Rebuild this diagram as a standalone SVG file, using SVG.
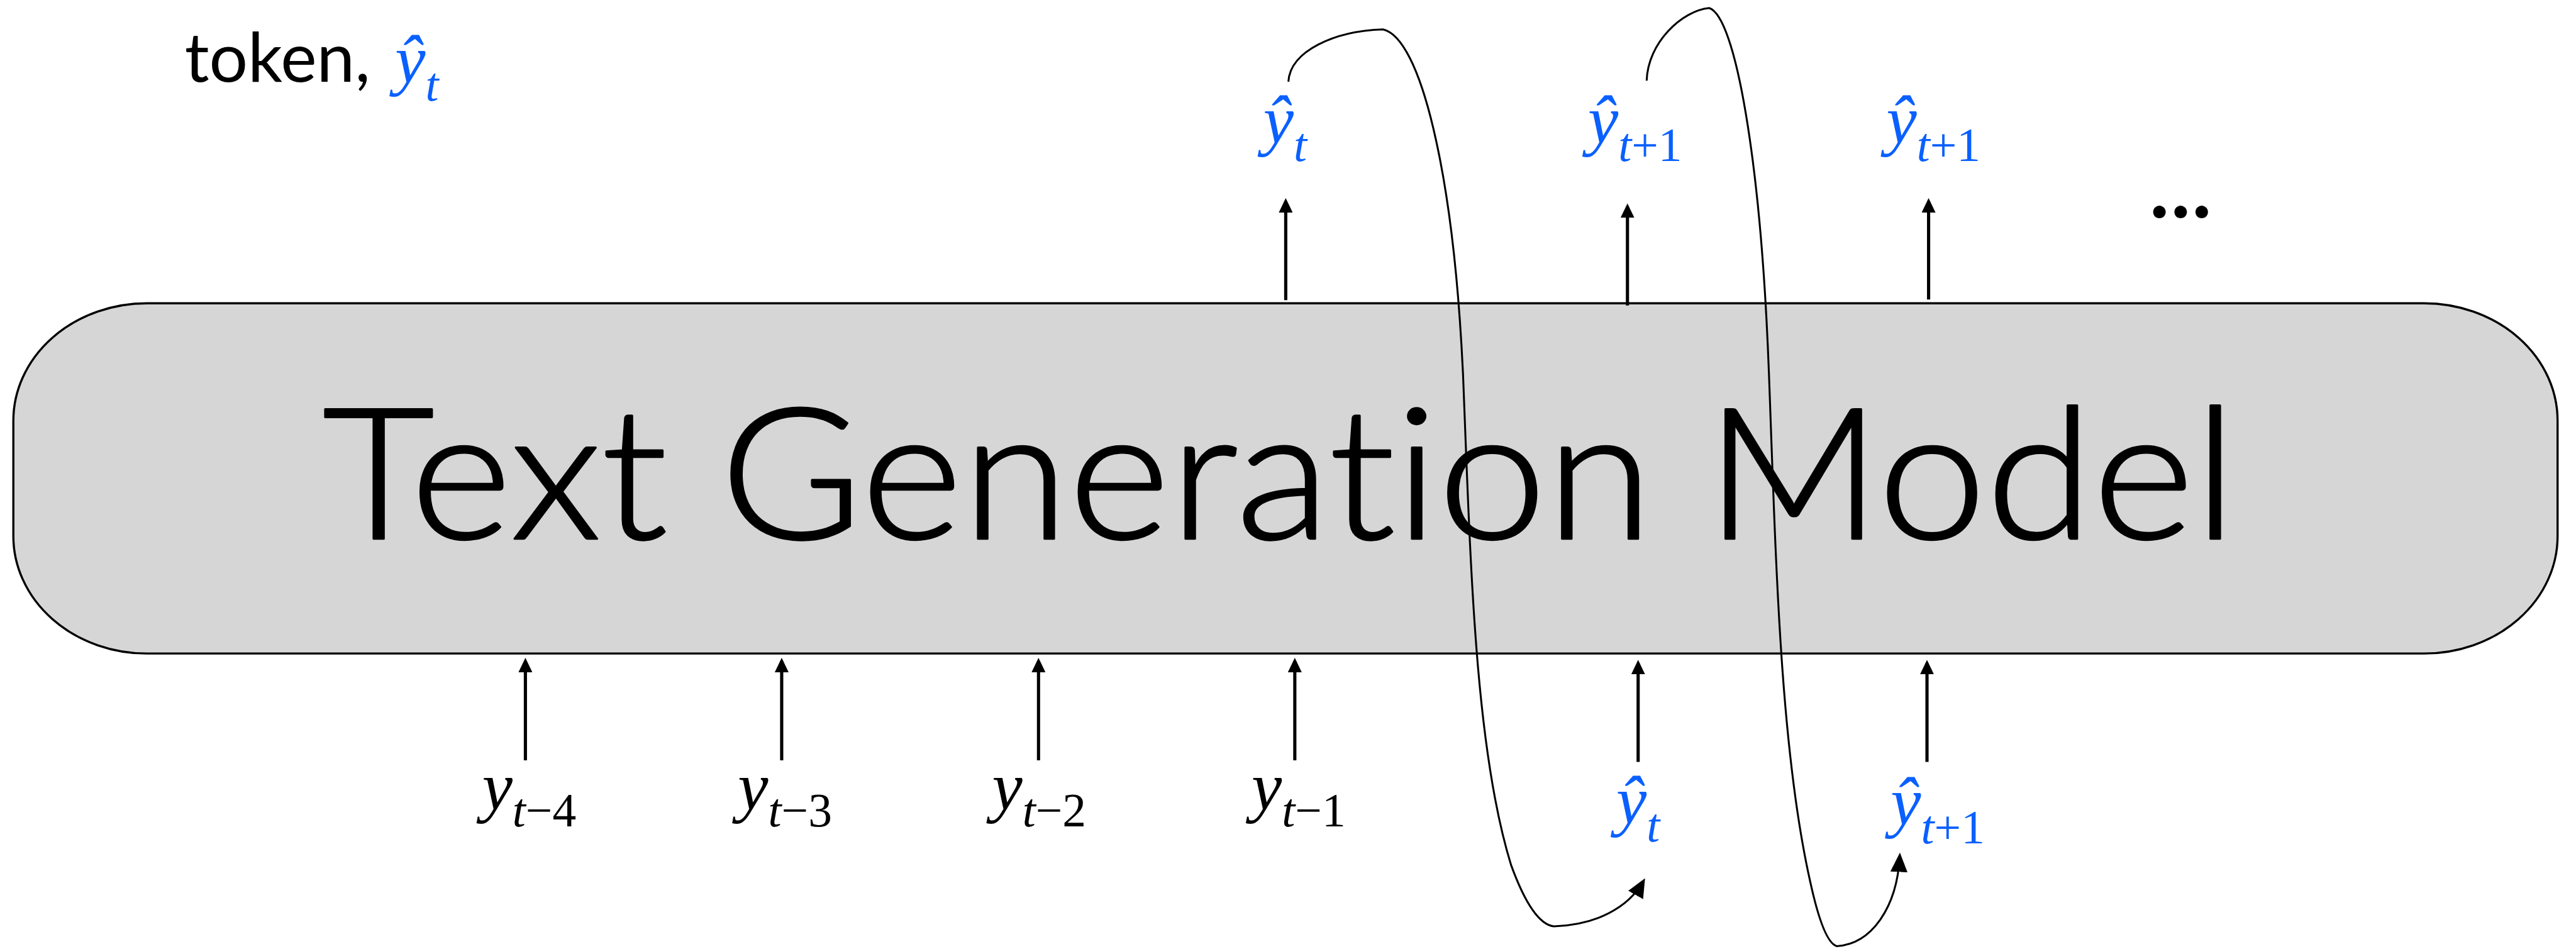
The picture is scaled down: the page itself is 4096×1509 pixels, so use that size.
<svg xmlns="http://www.w3.org/2000/svg" width="4096" height="1509" viewBox="0 0 4096 1509">
<style>
.math{font-family:"Liberation Serif","Times New Roman",serif;font-size:128px}
.it{font-style:italic}
.sub{font-size:89px}
.blue{fill:#0a60ff}
.blk{fill:#000}
.sans{font-family:Lato,"Liberation Sans",sans-serif;font-variant-ligatures:none;font-feature-settings:"liga" 0,"clig" 0}
.arr{stroke:#000;stroke-width:6;fill:none;marker-end:url(#ah)}
.curve{stroke:#000;stroke-width:3.6;fill:none;marker-end:url(#ahc)}
</style>
<defs>
<marker id="ah" viewBox="0 0 27 26" markerWidth="27" markerHeight="26" refX="21" refY="13" orient="auto" markerUnits="userSpaceOnUse">
<path d="M0,0 L27,13 L0,26 Z" fill="#000"/>
</marker>
<marker id="ahc" viewBox="0 0 36 32" markerWidth="36" markerHeight="32" refX="30" refY="16" orient="auto" markerUnits="userSpaceOnUse">
<path d="M0,0 L36,16 L0,32 Z" fill="#000"/>
</marker>
</defs>
<rect width="4096" height="1509" fill="#fff"/>
<g transform="scale(0.849)">
<g id="model">
<path d="M275,568 H4540 A250,220 0 0 1 4790,788 V1004 A250,220 0 0 1 4540,1224 H275 A250,220 0 0 1 25,1004 V788 A250,220 0 0 1 275,568 Z" fill="#d6d6d6" stroke="#000" stroke-width="4"/>
<text class="sans" x="604" y="1009" font-size="343" font-weight="300" textLength="3585" lengthAdjust="spacingAndGlyphs" fill="#000" stroke="#000" stroke-width="4" stroke-linejoin="round">Text Generation Model</text>
</g>
<g id="title-token">
<text class="sans" x="346" y="153" font-size="128" fill="#000">token,</text>
<text class="math blue" x="740" y="154"><tspan class="it">ŷ</tspan><tspan class="it sub" dy="34">t</tspan></text>
</g>
<g id="in-yt4"><text class="math blk" x="903" y="1516"><tspan class="it">y</tspan><tspan class="it sub" dy="32">t</tspan><tspan class="sub">−4</tspan></text></g>
<g id="in-yt3"><text class="math blk" x="1382" y="1516"><tspan class="it">y</tspan><tspan class="it sub" dy="32">t</tspan><tspan class="sub">−3</tspan></text></g>
<g id="in-yt2"><text class="math blk" x="1858" y="1516"><tspan class="it">y</tspan><tspan class="it sub" dy="32">t</tspan><tspan class="sub">−2</tspan></text></g>
<g id="in-yt1"><text class="math blk" x="2344" y="1516"><tspan class="it">y</tspan><tspan class="it sub" dy="32">t</tspan><tspan class="sub">−1</tspan></text></g>
<g id="in-yhat-t"><text class="math blue" x="3027" y="1542"><tspan class="it">ŷ</tspan><tspan class="it sub" dy="34">t</tspan></text></g>
<g id="in-yhat-t1"><text class="math blue" x="3541" y="1544"><tspan class="it">ŷ</tspan><tspan class="it sub" dy="35">t</tspan><tspan class="sub">+1</tspan></text></g>
<g id="out-yhat-t"><text class="math blue" x="2366" y="267"><tspan class="it">ŷ</tspan><tspan class="it sub" dy="35">t</tspan></text></g>
<g id="out-yhat-t1a"><text class="math blue" x="2974" y="267"><tspan class="it">ŷ</tspan><tspan class="it sub" dy="35">t</tspan><tspan class="sub">+1</tspan></text></g>
<g id="out-yhat-t1b"><text class="math blue" x="3533" y="267"><tspan class="it">ŷ</tspan><tspan class="it sub" dy="35">t</tspan><tspan class="sub">+1</tspan></text></g>
<g id="ellipsis"><text class="sans" x="4026" y="407" font-size="155" font-weight="700" textLength="116" lengthAdjust="spacing" fill="#000">...</text></g>
<g id="connectors">
<line class="arr" x1="984" y1="1424" x2="984" y2="1238"/>
<line class="arr" x1="1464" y1="1424" x2="1464" y2="1238"/>
<line class="arr" x1="1945" y1="1424" x2="1945" y2="1238"/>
<line class="arr" x1="2425" y1="1424" x2="2425" y2="1238"/>
<line class="arr" x1="3068" y1="1427" x2="3068" y2="1242"/>
<line class="arr" x1="3609" y1="1427" x2="3609" y2="1242"/>
<line class="arr" x1="2408" y1="562" x2="2408" y2="377"/>
<line class="arr" x1="3048" y1="572" x2="3048" y2="387"/>
<line class="arr" x1="3612" y1="561" x2="3612" y2="377"/>
<path class="curve" d="M2413,153 C2416,95 2500,58 2590,55 C2660,70 2722,320 2740,700 C2754,1050 2762,1400 2830,1620 Q2870,1730 2910,1735 C2990,1732 3050,1700 3078,1650"/>
<path class="curve" d="M3084,151 C3086,80 3150,20 3201,15 C3250,30 3298,300 3313,700 C3326,1050 3334,1400 3390,1650 Q3415,1765 3440,1772 C3505,1768 3553,1700 3558,1603"/>
</g>
</g>
</svg>
